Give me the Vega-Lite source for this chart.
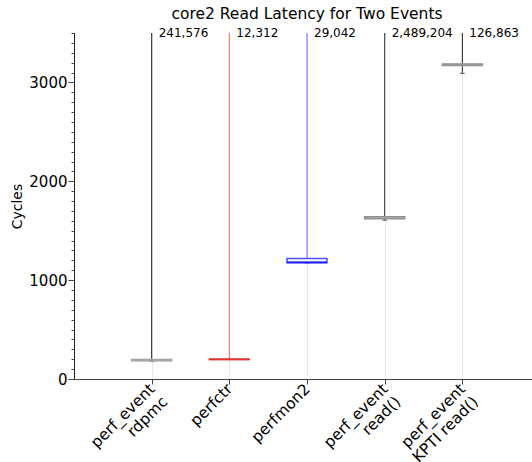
{
  "$schema": "https://vega.github.io/schema/vega-lite/v6.json",
  "width": 466,
  "height": 346,
  "autosize": {"type": "none"},
  "padding": {"left": 74, "top": 33, "right": 0, "bottom": 83},
  "background": "white",
  "config": {"view": {"stroke": null}, "font": "DejaVu Sans"},
  "title": {"text": "core2 Read Latency for Two Events", "fontSize": 15.5, "fontWeight": "normal", "color": "black", "font": "DejaVu Sans", "anchor": "middle", "offset": 5},
  "data": {
    "values": [
      {"cat": "perf_event rdpmc", "min": 180, "q1": 184, "med": 190, "q3": 196, "max": 241576},
      {"cat": "perfctr", "min": 197, "q1": 198, "med": 199, "q3": 200, "max": 12312},
      {"cat": "perfmon2", "min": 1172, "q1": 1176, "med": 1182, "q3": 1220, "max": 29042},
      {"cat": "perf_event read()", "min": 1606, "q1": 1622, "med": 1630, "q3": 1640, "max": 2489204},
      {"cat": "perf_event KPTI read()", "min": 3092, "q1": 3172, "med": 3180, "q3": 3186, "max": 126863}
    ]
  },
  "encoding": {
    "x": {
      "field": "cat", "type": "nominal", "sort": null,
      "scale": {"type": "point", "padding": 1.026},
      "axis": {
        "title": null, "labelAngle": -45, "labelAlign": "right", "labelBaseline": "middle",
        "labelFontSize": 15.5, "labelColor": "black", "labelPadding": 2, "labelLineHeight": 18,
        "labelOverlap": false, "labelLimit": 0,
        "labelExpr": "indexof(datum.label, ' ') > 0 ? [substring(datum.label, 0, indexof(datum.label, ' ')), substring(datum.label, indexof(datum.label, ' ') + 1)] : datum.label",
        "domainColor": "#444", "tickColor": "#444", "tickSize": 5,
        "grid": true, "gridColor": "#e8e8e8"
      }
    }
  },
  "resolve": {"axis": {"y": "independent"}},
  "layer": [
    {
      "mark": {"type": "rule", "clip": true, "strokeWidth": 1},
      "encoding": {
        "y": {
          "field": "min", "type": "quantitative",
          "scale": {"domain": [0, 3500], "nice": false, "zero": true},
          "axis": {
            "orient": "left", "title": null, "labels": false,
            "values": [100, 200, 300, 400, 500, 600, 700, 800, 900, 1100, 1200, 1300, 1400, 1500, 1600, 1700, 1800, 1900, 2100, 2200, 2300, 2400, 2500, 2600, 2700, 2800, 2900, 3100, 3200, 3300, 3400, 3500],
            "tickSize": 3, "domainColor": "#222", "tickColor": "#444", "grid": false
          }
        },
        "y2": {"field": "max"},
        "color": {
          "field": "cat", "type": "nominal", "legend": null,
          "scale": {"domain": ["perf_event rdpmc", "perfctr", "perfmon2", "perf_event read()", "perf_event KPTI read()"], "range": ["#222222", "#ff5c5c", "#6464ff", "#333333", "#222222"]}
        }
      }
    },
    {
      "mark": {"type": "tick", "size": 5, "thickness": 1},
      "encoding": {
        "y": {
          "field": "min", "type": "quantitative",
          "axis": {
            "orient": "left", "title": "Cycles", "titleFontSize": 14, "titleFontWeight": "normal", "titleColor": "black",
            "values": [0, 1000, 2000, 3000], "format": "d", "labelOverlap": false,
            "tickSize": 6, "labelFontSize": 15, "labelColor": "black", "labelPadding": 1,
            "domainColor": "#222", "tickColor": "#444", "grid": false
          }
        },
        "color": {"field": "cat", "type": "nominal", "legend": null}
      }
    },
    {
      "mark": {"type": "bar", "size": 40, "fill": "white", "strokeWidth": 1.5},
      "encoding": {
        "y": {"field": "q1", "type": "quantitative", "axis": null},
        "y2": {"field": "q3"},
        "stroke": {
          "field": "cat", "type": "nominal", "legend": null,
          "scale": {"domain": ["perf_event rdpmc", "perfctr", "perfmon2", "perf_event read()", "perf_event KPTI read()"], "range": ["#a0a0a0", "#e03030", "#5050ff", "#909090", "#909090"]}
        }
      }
    },
    {
      "mark": {"type": "tick", "size": 40, "thickness": 2},
      "encoding": {
        "y": {"field": "med", "type": "quantitative", "axis": null},
        "fill": {
          "field": "cat", "type": "nominal", "legend": null,
          "scale": {"domain": ["perf_event rdpmc", "perfctr", "perfmon2", "perf_event read()", "perf_event KPTI read()"], "range": ["#a8a8a8", "#e03030", "#0000ee", "#999999", "#999999"]}
        }
      }
    },
    {
      "mark": {"type": "text", "align": "left", "baseline": "middle", "dx": 7, "fontSize": 12, "color": "black"},
      "encoding": {
        "y": {"datum": 3500, "axis": null},
        "text": {"field": "max", "type": "quantitative", "format": ",d"}
      }
    }
  ]
}
